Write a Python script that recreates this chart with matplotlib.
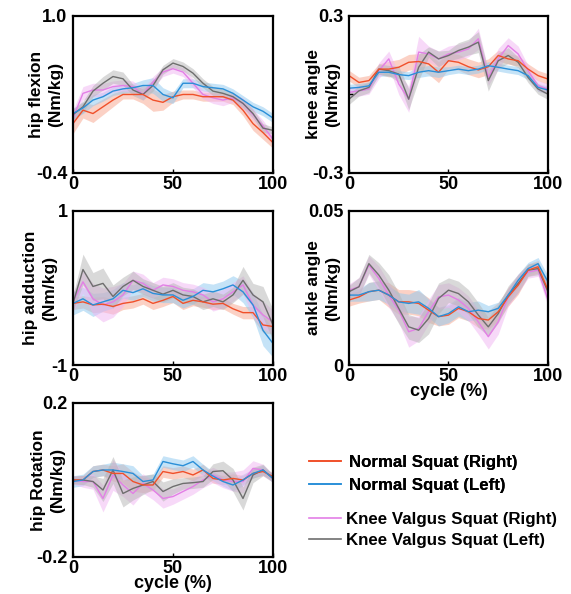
import numpy as np
import matplotlib
matplotlib.use('Agg')
import matplotlib.pyplot as plt
from matplotlib.lines import Line2D

plt.rcParams['font.family'] = ['Liberation Sans', 'DejaVu Sans']
plt.rcParams['font.weight'] = 'bold'

# cycle (%) sample points, every 5 %
cycle = np.arange(0, 101, 5)

series_names = ['Normal Squat (Right)', 'Normal Squat (Left)',
                'Knee Valgus Squat (Right)', 'Knee Valgus Squat (Left)']

# hip flexion
hipflex_nr = [0.04, 0.16, 0.13, 0.19, 0.25, 0.30, 0.30, 0.30, 0.25, 0.23, 0.28, 0.30, 0.30, 0.28, 0.28, 0.28, 0.25, 0.16, 0.04, -0.04, -0.13]
hipflex_nl = [0.13, 0.18, 0.25, 0.28, 0.33, 0.35, 0.36, 0.38, 0.38, 0.30, 0.27, 0.40, 0.40, 0.37, 0.36, 0.35, 0.31, 0.25, 0.19, 0.15, 0.09]
hipflex_vr = [0.09, 0.31, 0.34, 0.34, 0.37, 0.38, 0.37, 0.30, 0.41, 0.50, 0.53, 0.50, 0.40, 0.30, 0.27, 0.25, 0.27, 0.22, 0.12, 0.02, -0.10]
hipflex_vl = [0.12, 0.19, 0.33, 0.40, 0.46, 0.44, 0.34, 0.30, 0.38, 0.52, 0.58, 0.55, 0.49, 0.40, 0.33, 0.31, 0.28, 0.22, 0.13, 0.00, -0.02]
hipflex_nr_sd = [0.09, 0.07, 0.08, 0.07, 0.06, 0.04, 0.04, 0.08, 0.10, 0.07, 0.05, 0.04, 0.04, 0.04, 0.04, 0.04, 0.04, 0.05, 0.06, 0.06, 0.05]
hipflex_nl_sd = [0.05, 0.05, 0.05, 0.04, 0.04, 0.04, 0.04, 0.05, 0.07, 0.06, 0.05, 0.04, 0.04, 0.04, 0.04, 0.04, 0.04, 0.04, 0.04, 0.04, 0.04]
hipflex_vr_sd = [0.07, 0.06, 0.06, 0.06, 0.05, 0.05, 0.05, 0.05, 0.05, 0.04, 0.04, 0.04, 0.04, 0.04, 0.05, 0.05, 0.04, 0.05, 0.05, 0.05, 0.05]
hipflex_vl_sd = [0.05, 0.05, 0.05, 0.06, 0.06, 0.06, 0.05, 0.05, 0.05, 0.04, 0.04, 0.04, 0.04, 0.04, 0.04, 0.04, 0.04, 0.04, 0.04, 0.04, 0.03]

# knee
knee_nr = [0.072, 0.046, 0.053, 0.097, 0.097, 0.104, 0.123, 0.126, 0.117, 0.085, 0.129, 0.123, 0.106, 0.094, 0.106, 0.149, 0.136, 0.129, 0.097, 0.072, 0.059]
knee_nl = [0.024, 0.027, 0.033, 0.085, 0.085, 0.076, 0.072, 0.085, 0.091, 0.085, 0.091, 0.097, 0.091, 0.097, 0.110, 0.104, 0.097, 0.091, 0.072, 0.027, 0.017]
knee_vr = [0.008, 0.014, 0.021, 0.091, 0.136, 0.040, -0.018, 0.162, 0.155, 0.136, 0.155, 0.162, 0.174, 0.213, 0.065, 0.136, 0.187, 0.155, 0.091, 0.033, 0.021]
knee_vl = [-0.018, 0.014, 0.027, 0.097, 0.091, 0.078, -0.018, 0.104, 0.162, 0.136, 0.149, 0.168, 0.181, 0.200, 0.053, 0.129, 0.149, 0.123, 0.065, 0.021, 0.001]
knee_nr_sd = [0.02, 0.02, 0.02, 0.02, 0.03, 0.03, 0.03, 0.03, 0.04, 0.04, 0.03, 0.03, 0.03, 0.03, 0.03, 0.02, 0.02, 0.02, 0.02, 0.02, 0.02]
knee_nl_sd = [0.015, 0.015, 0.015, 0.015, 0.015, 0.015, 0.015, 0.02, 0.02, 0.02, 0.015, 0.015, 0.015, 0.015, 0.015, 0.015, 0.015, 0.015, 0.015, 0.015, 0.015]
knee_vr_sd = [0.02, 0.02, 0.02, 0.03, 0.03, 0.04, 0.05, 0.06, 0.03, 0.03, 0.03, 0.03, 0.03, 0.04, 0.03, 0.04, 0.03, 0.03, 0.02, 0.02, 0.02]
knee_vl_sd = [0.02, 0.02, 0.02, 0.02, 0.02, 0.03, 0.04, 0.05, 0.02, 0.03, 0.02, 0.03, 0.03, 0.04, 0.04, 0.03, 0.03, 0.02, 0.02, 0.02, 0.02]

# hip adduction
hipadd_nr = [-0.20, -0.18, -0.22, -0.21, -0.24, -0.20, -0.18, -0.14, -0.20, -0.16, -0.11, -0.20, -0.16, -0.18, -0.21, -0.20, -0.27, -0.32, -0.32, -0.48, -0.50]
hipadd_nl = [-0.20, -0.14, -0.22, -0.18, -0.14, -0.03, -0.06, -0.01, -0.07, -0.09, -0.09, -0.16, -0.11, -0.03, -0.05, -0.01, 0.04, -0.05, -0.22, -0.55, -0.72]
hipadd_vr = [-0.18, 0.08, -0.14, -0.22, -0.18, -0.09, 0.10, 0.06, -0.03, 0.04, 0.02, -0.03, -0.05, -0.09, -0.18, -0.14, -0.05, 0.04, -0.22, -0.35, -0.44]
hipadd_vl = [-0.20, 0.24, 0.02, 0.06, -0.11, 0.02, 0.10, 0.02, -0.03, -0.08, -0.03, -0.09, -0.11, -0.18, -0.14, -0.18, -0.09, 0.10, -0.09, -0.18, -0.48]
hipadd_nr_sd = [0.08, 0.08, 0.10, 0.10, 0.10, 0.08, 0.08, 0.07, 0.08, 0.08, 0.08, 0.08, 0.07, 0.07, 0.07, 0.07, 0.07, 0.08, 0.08, 0.10, 0.10]
hipadd_nl_sd = [0.15, 0.15, 0.15, 0.12, 0.12, 0.10, 0.10, 0.10, 0.10, 0.10, 0.10, 0.10, 0.10, 0.10, 0.10, 0.10, 0.12, 0.14, 0.16, 0.20, 0.18]
hipadd_vr_sd = [0.12, 0.15, 0.20, 0.22, 0.20, 0.15, 0.12, 0.12, 0.10, 0.10, 0.10, 0.10, 0.10, 0.10, 0.12, 0.12, 0.12, 0.12, 0.15, 0.18, 0.15]
hipadd_vl_sd = [0.10, 0.20, 0.18, 0.20, 0.15, 0.12, 0.12, 0.10, 0.10, 0.10, 0.10, 0.10, 0.10, 0.10, 0.10, 0.10, 0.10, 0.18, 0.15, 0.20, 0.20]

# ankle
ankle_nr = [0.0211, 0.0221, 0.0238, 0.0243, 0.0227, 0.0205, 0.0205, 0.0200, 0.0178, 0.0157, 0.0162, 0.0184, 0.0173, 0.0151, 0.0146, 0.0173, 0.0221, 0.0259, 0.0308, 0.0319, 0.0243]
ankle_nl = [0.0227, 0.0227, 0.0238, 0.0243, 0.0227, 0.0205, 0.0200, 0.0205, 0.0184, 0.0157, 0.0167, 0.0189, 0.0173, 0.0178, 0.0173, 0.0184, 0.0227, 0.0275, 0.0313, 0.0329, 0.0270]
ankle_vr = [0.0243, 0.0254, 0.0324, 0.0281, 0.0227, 0.0178, 0.0108, 0.0119, 0.0173, 0.0221, 0.0227, 0.0211, 0.0184, 0.0140, 0.0092, 0.0140, 0.0221, 0.0265, 0.0302, 0.0308, 0.0211]
ankle_vl = [0.0238, 0.0254, 0.0329, 0.0292, 0.0243, 0.0184, 0.0124, 0.0113, 0.0151, 0.0216, 0.0243, 0.0232, 0.0205, 0.0162, 0.0124, 0.0167, 0.0227, 0.0265, 0.0308, 0.0313, 0.0238]
ankle_nr_sd = [0.002, 0.002, 0.003, 0.003, 0.004, 0.004, 0.004, 0.004, 0.004, 0.003, 0.003, 0.003, 0.003, 0.003, 0.003, 0.003, 0.003, 0.003, 0.002, 0.002, 0.002]
ankle_nl_sd = [0.002, 0.002, 0.003, 0.003, 0.003, 0.003, 0.003, 0.004, 0.003, 0.003, 0.003, 0.003, 0.003, 0.003, 0.002, 0.002, 0.002, 0.002, 0.002, 0.002, 0.002]
ankle_vr_sd = [0.002, 0.003, 0.003, 0.004, 0.004, 0.004, 0.005, 0.004, 0.004, 0.004, 0.004, 0.004, 0.004, 0.004, 0.004, 0.004, 0.003, 0.003, 0.002, 0.002, 0.002]
ankle_vl_sd = [0.002, 0.003, 0.003, 0.004, 0.005, 0.005, 0.004, 0.004, 0.005, 0.005, 0.004, 0.004, 0.004, 0.004, 0.003, 0.003, 0.003, 0.003, 0.002, 0.002, 0.002]

# hip rotation
hiprot_nr = [0.000, 0.000, 0.022, 0.026, 0.017, 0.017, -0.004, -0.013, -0.013, 0.022, 0.017, 0.022, 0.013, 0.026, 0.004, 0.000, 0.004, 0.000, 0.017, 0.022, 0.009]
hiprot_nl = [-0.004, 0.000, 0.022, 0.026, 0.026, 0.022, 0.017, -0.004, 0.000, 0.048, 0.042, 0.037, 0.048, 0.026, 0.010, -0.004, -0.013, 0.000, 0.017, 0.026, 0.004]
hiprot_vr = [0.000, -0.004, -0.004, -0.048, 0.013, -0.013, -0.035, -0.009, -0.026, -0.048, -0.043, -0.030, -0.017, 0.000, 0.013, 0.000, -0.004, -0.004, 0.030, 0.026, 0.004]
hiprot_vl = [0.000, 0.000, -0.004, -0.026, 0.026, -0.035, -0.022, -0.013, -0.004, -0.030, -0.017, -0.009, -0.007, -0.004, 0.022, 0.024, 0.000, -0.048, 0.013, 0.026, 0.004]
hiprot_nr_sd = [0.010, 0.012, 0.015, 0.015, 0.020, 0.025, 0.025, 0.020, 0.015, 0.015, 0.015, 0.015, 0.015, 0.015, 0.012, 0.012, 0.012, 0.012, 0.012, 0.010, 0.010]
hiprot_nl_sd = [0.015, 0.015, 0.015, 0.015, 0.020, 0.020, 0.020, 0.015, 0.015, 0.015, 0.015, 0.015, 0.015, 0.015, 0.012, 0.012, 0.015, 0.015, 0.012, 0.012, 0.010]
hiprot_vr_sd = [0.010, 0.015, 0.020, 0.035, 0.040, 0.030, 0.030, 0.025, 0.025, 0.025, 0.020, 0.020, 0.020, 0.020, 0.020, 0.020, 0.025, 0.030, 0.020, 0.015, 0.010]
hiprot_vl_sd = [0.010, 0.012, 0.015, 0.030, 0.035, 0.035, 0.030, 0.025, 0.020, 0.025, 0.020, 0.015, 0.015, 0.015, 0.020, 0.025, 0.030, 0.030, 0.020, 0.015, 0.010]

line_colors = ['#f0502a', '#2a8fd8', '#e37fe6', '#6e6e6e']
band_colors = ['#f8a58c', '#8cc8f0', '#f0b4f2', '#b4b4b4']

fig = plt.figure(figsize=(5.71, 5.94), dpi=100)

# rect, ylabel, ylim, ylim labels, means, sds, show xlabel, ylabel x (axes coords)
panels = [
    ([0.1278, 0.7088, 0.3503, 0.2643], 'hip flexion\n(Nm/kg)', (-0.4, 1.0), ['-0.4', '1.0'],
     [hipflex_nr, hipflex_nl, hipflex_vr, hipflex_vl],
     [hipflex_nr_sd, hipflex_nl_sd, hipflex_vr_sd, hipflex_vl_sd], False, -0.05),
    ([0.6112, 0.7088, 0.3485, 0.2643], 'knee angle\n(Nm/kg)', (-0.3, 0.3), ['-0.3', '0.3'],
     [knee_nr, knee_nl, knee_vr, knee_vl],
     [knee_nr_sd, knee_nl_sd, knee_vr_sd, knee_vl_sd], False, -0.045),
    ([0.1278, 0.3855, 0.3503, 0.2593], 'hip adduction\n(Nm/kg)', (-1, 1), ['-1', '1'],
     [hipadd_nr, hipadd_nl, hipadd_vr, hipadd_vl],
     [hipadd_nr_sd, hipadd_nl_sd, hipadd_vr_sd, hipadd_vl_sd], False, -0.08),
    ([0.6112, 0.3855, 0.3485, 0.2593], 'ankle angle\n(Nm/kg)', (0, 0.05), ['0', '0.05'],
     [ankle_nr, ankle_nl, ankle_vr, ankle_vl],
     [ankle_nr_sd, ankle_nl_sd, ankle_vr_sd, ankle_vl_sd], True, -0.045),
    ([0.1278, 0.0623, 0.3503, 0.2593], 'hip Rotation\n(Nm/kg)', (-0.2, 0.2), ['-0.2', '0.2'],
     [hiprot_nr, hiprot_nl, hiprot_vr, hiprot_vl],
     [hiprot_nr_sd, hiprot_nl_sd, hiprot_vr_sd, hiprot_vl_sd], True, -0.04),
]

for rect, ylab, ylim, ylabels, means, sds, show_x, labx in panels:
    ax = fig.add_axes(rect)
    for m, s, lc, bc in zip(means, sds, line_colors, band_colors):
        m = np.array(m)
        s = np.array(s)
        ax.fill_between(cycle, m - s, m + s, color=bc, alpha=0.5, linewidth=0)
    for k in [2, 3, 0, 1]:
        ax.plot(cycle, means[k], color=line_colors[k], linewidth=1.0)
    ax.set_xlim(0, 100)
    ax.set_ylim(*ylim)
    ax.set_xticks([0, 50, 100])
    ax.set_xticklabels(['0', '50', '100'], fontsize=13, fontweight='bold')
    ax.set_yticks(list(ylim))
    ax.set_yticklabels(ylabels, fontsize=13, fontweight='bold')
    ax.tick_params(axis='x', direction='in', length=3, width=1, pad=2)
    ax.tick_params(axis='y', length=0, pad=4)
    if ylim == (-0.3, 0.3):
        ax.set_yticks([0], minor=True)
        ax.tick_params(axis='y', which='minor', direction='in', length=3, width=1)
    ax.set_ylabel(ylab, fontsize=12.5, fontweight='bold', linespacing=1.35)
    ax.yaxis.set_label_coords(labx, 0.5)
    if show_x:
        ax.set_xlabel('cycle (%)', fontsize=13, fontweight='bold', labelpad=-1)
    for sp in ax.spines.values():
        sp.set_linewidth(1.6)

handles = [Line2D([], [], color=c, linewidth=1.2) for c in line_colors]
leg1 = fig.legend(handles[:2], series_names[:2], loc='upper left', bbox_to_anchor=(0.541, 0.2334),
                  frameon=False, borderpad=0, borderaxespad=0, handlelength=1.9, handletextpad=0.45,
                  labelspacing=0.45, prop={'size': 12.2, 'weight': 'bold'})
fig.add_artist(leg1)
fig.legend(handles[2:], series_names[2:], loc='upper left', bbox_to_anchor=(0.541, 0.1384),
           frameon=False, borderpad=0, borderaxespad=0, handlelength=1.9, handletextpad=0.3,
           labelspacing=0.35, prop={'size': 12.2, 'weight': 'bold'})

fig.savefig('out.png', dpi=100)
